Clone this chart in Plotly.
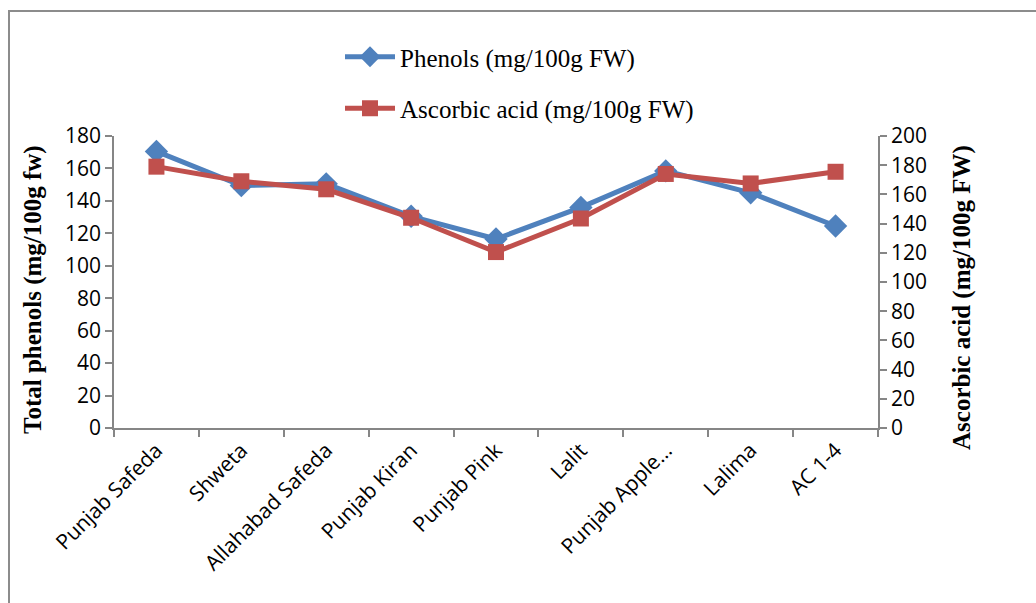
import plotly.graph_objects as go

categories = ["Punjab Safeda", "Shweta", "Allahabad Safeda", "Punjab Kiran", "Punjab Pink",
              "Lalit", "Punjab Apple…", "Lalima", "AC 1-4"]
phenols = [170.5, 149.5, 150.5, 130.5, 116.5, 136, 158.5, 145, 124.5]
ascorbic = [179, 169, 163.5, 144, 120.5, 143.5, 174, 167.5, 175.5]

W, H = 1036, 603
L, R, T, B = 114, 158, 136, 175
pw, ph = W - L - R, H - T - B

def px(x):
    return (x - L) / pw

def py(y):
    return (H - B - y) / ph

blue = "#4F81BD"
red = "#C0504D"
axc = "#868686"
sans = "Open Sans"
serif = "Liberation Serif"

fig = go.Figure()
fig.add_trace(go.Scatter(x=categories, y=phenols, name="Phenols (mg/100g FW)", mode="lines+markers",
                         line=dict(color=blue, width=5), legendgroup="a",
                         marker=dict(symbol="diamond", size=18, color=blue), yaxis="y"))
fig.add_trace(go.Scatter(x=categories, y=ascorbic, name="Ascorbic acid (mg/100g FW)", mode="lines+markers",
                         line=dict(color=red, width=5), legendgroup="b",
                         marker=dict(symbol="square", size=16, color=red), yaxis="y2"))

tickfont = dict(family=sans, size=21, color="black")

fig.update_layout(
    width=W, height=H,
    margin=dict(l=L, r=R, t=T, b=B),
    plot_bgcolor="white", paper_bgcolor="white",
    showlegend=True,
    legend=dict(x=px(340), xanchor="left", y=py(34), yanchor="top",
                font=dict(family=serif, size=25, color="black"),
                tracegroupgap=16, itemwidth=50, bgcolor="rgba(0,0,0,0)"),
    xaxis=dict(type="category", showline=True, linecolor=axc, linewidth=1.5,
               ticks="outside", tickson="boundaries", ticklen=7, tickcolor=axc, tickwidth=1.5,
               tickangle=-45, tickfont=tickfont,
               showgrid=False, zeroline=False, range=[-0.5, 8.5]),
    yaxis=dict(range=[0, 180], dtick=20, showline=True, linecolor=axc, linewidth=1.5,
               ticks="outside", ticklen=7, tickcolor=axc, tickwidth=1.5,
               tickfont=tickfont, showgrid=False, zeroline=False),
    yaxis2=dict(range=[0, 200], dtick=20, overlaying="y", side="right", showline=True,
                linecolor=axc, linewidth=1.5, ticks="outside", ticklen=7, tickcolor=axc, tickwidth=1.5,
                tickfont=tickfont, showgrid=False, zeroline=False),
    annotations=[
        dict(text="<b>Total phenols (mg/100g fw)</b>", xref="paper", yref="paper",
             x=px(33), y=py(290), textangle=-90, showarrow=False,
             font=dict(family=serif, size=25, color="black"), xanchor="center", yanchor="middle"),
        dict(text="<b>Ascorbic acid (mg/100g FW)</b>", xref="paper", yref="paper",
             x=px(962), y=py(298), textangle=-90, showarrow=False,
             font=dict(family=serif, size=25, color="black"), xanchor="center", yanchor="middle"),
    ],
    shapes=[dict(type="rect", xref="paper", yref="paper",
                 x0=px(9), x1=px(1045), y0=py(615), y1=py(11),
                 line=dict(color="#8c8c8c", width=2), fillcolor="rgba(0,0,0,0)", layer="below")],
)

fig.write_html("out.html")
